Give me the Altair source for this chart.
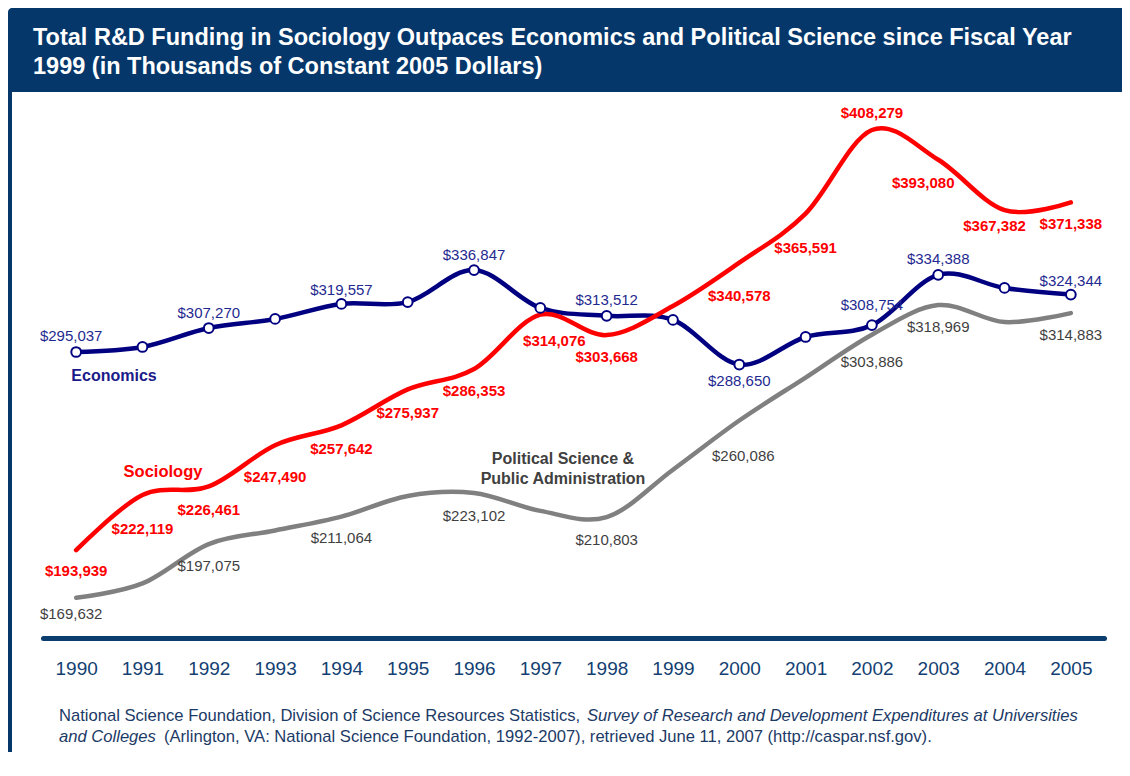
import altair as alt
import pandas as pd

# ---------------- data ----------------
years = list(range(1990, 2006))
economics = [295037, 297600, 307270, 311900, 319557, 320500, 336847, 317500,
             313512, 311400, 288650, 302700, 308754, 334388, 327700, 324344]
sociology = [193939, 222119, 226461, 247490, 257642, 275937, 286353, 314076,
             303668, 318500, 340578, 365591, 408279, 393080, 367382, 371338]
political = [169632, 177000, 197075, 204000, 211064, 221600, 223102, 214000,
             210803, 235000, 260086, 282000, 303886, 318969, 310300, 314883]

series_names = ["Economics", "Sociology", "Political Science & Public Administration"]
year_ticks = years

title_lines = [
    "Total R&D Funding in Sociology Outpaces Economics and Political Science since Fiscal Year",
    "1999 (in Thousands of Constant 2005 Dollars)",
]
source_l1_a = "National Science Foundation, Division of Science Resources Statistics,"
source_l1_b = "Survey of Research and Development Expenditures at Universities"
source_l2_a = "and Colleges"
source_l2_b = "(Arlington, VA: National Science Foundation, 1992-2007), retrieved June 11, 2007 (http://caspar.nsf.gov)."

# ---------------- layout (label placement offsets in px: dx, dy) ----------------
econ_label_pos = {1990: (-5, -16), 1992: (0, -15), 1994: (0, -14), 1996: (0, -15),
                  1998: (0, -16), 2000: (0, 16), 2002: (0, -20), 2003: (0, -16),
                  2005: (0, -14)}
soc_label_pos = {1990: (0, 21), 1991: (0, 34), 1992: (0, 24), 1993: (0, 32),
                 1994: (0, 24), 1995: (0, 24), 1996: (0, 22), 1997: (14, 26),
                 1998: (0, 22), 2000: (0, 33), 2001: (0, 34), 2002: (0, -17),
                 2003: (-15, 23), 2004: (-10, 16), 2005: (0, 22)}
pol_label_pos = {1990: (-5, 16), 1992: (0, 22), 1994: (0, 21), 1996: (0, 23),
                 1998: (0, 23), 2000: (4, 35), 2002: (0, 27), 2003: (0, 22),
                 2005: (0, 22)}

W, H = 1061, 537
x_dom = [1989.5, 2005.5]
y_dom = [149150, 423070]
px_per_year = W / (x_dom[1] - x_dom[0])
val_per_px = (y_dom[1] - y_dom[0]) / H

NAVY = "#000080"
RED = "#FF0000"
GRAY = "#808080"
BANNER = "#05376B"
AXIS_NAVY = "#0B3D6E"
FONT = "Liberation Sans"

rows = []
for name, vals, pos in zip(series_names, [economics, sociology, political],
                           [econ_label_pos, soc_label_pos, pol_label_pos]):
    for y, v in zip(years, vals):
        dx, dy = pos.get(y, (0, 0))
        rows.append({"year": y, "value": v, "series": name,
                     "has_label": y in pos, "ldx": dx, "ldy": dy,
                     "text": "${:,}".format(v)})
df = pd.DataFrame(rows)

x_axis = alt.Axis(values=year_ticks, format="d", title=None, grid=False, ticks=False,
                  tickSize=0, domainColor=AXIS_NAVY, domainWidth=5, domainCap="round",
                  labelFontSize=19, labelColor="#133F72", labelFont=FONT,
                  labelPadding=21, labelOverlap=False, labelFlush=False)
x_scale = alt.Scale(domain=x_dom, nice=False, zero=False)
y_scale = alt.Scale(domain=y_dom, nice=False, zero=False)

base = alt.Chart(df)


def line_layer(name, color):
    return base.transform_filter(alt.datum.series == name).mark_line(
        interpolate="cardinal", strokeWidth=4.5, color=color, strokeCap="round"
    ).encode(
        x=alt.X("year:Q", scale=x_scale, axis=x_axis),
        y=alt.Y("value:Q", scale=y_scale, axis=None),
    )


def label_layer(name, color, weight):
    return base.transform_filter(
        (alt.datum.series == name) & alt.datum.has_label
    ).transform_calculate(
        lx=alt.datum.year + alt.datum.ldx / px_per_year,
        ly=alt.datum.value - alt.datum.ldy * val_per_px,
    ).mark_text(font=FONT, fontSize=15, fontWeight=weight, color=color,
                align="center", baseline="middle").encode(
        x=alt.X("lx:Q", scale=x_scale, axis=x_axis),
        y=alt.Y("ly:Q", scale=y_scale, axis=None),
        text="text:N",
    )


markers = base.transform_filter(alt.datum.series == series_names[0]).mark_point(
    shape="circle", filled=True, fill="white", stroke=NAVY, strokeWidth=2,
    size=95, opacity=1
).encode(
    x=alt.X("year:Q", scale=x_scale, axis=x_axis),
    y=alt.Y("value:Q", scale=y_scale, axis=None),
)

one = alt.Data(values=[{"k": 1}])

banner = alt.Chart(one).mark_rect(color=BANNER, cornerRadiusTopLeft=4).encode(
    x=alt.value(-35), x2=alt.value(1079), y=alt.value(-93), y2=alt.value(-9)
)
border = alt.Chart(one).mark_rule(color=BANNER, strokeWidth=4).encode(
    x=alt.value(-33), y=alt.value(-10), y2=alt.value(651)
)


def text_at(txt, x, y, size, color, weight="normal", style="normal", align="left"):
    return alt.Chart(one).mark_text(
        text=txt, font=FONT, fontSize=size, fontWeight=weight, fontStyle=style,
        color=color, align=align, baseline="alphabetic"
    ).encode(x=alt.value(x), y=alt.value(y))


title1 = text_at(title_lines[0], -10, -56, 23.5, "white", "bold")
title2 = text_at(title_lines[1], -10, -27, 23.5, "white", "bold")

SRC = "#1C3A66"
src1a = text_at(source_l1_a, 16, 620, 16.6, SRC)
src1b = text_at(source_l1_b, 544, 620, 16.6, SRC, style="italic")
src2a = text_at(source_l2_a, 16, 641, 16.6, SRC, style="italic")
src2b = text_at(source_l2_b, 121, 641, 16.6, SRC)

name_econ = alt.Chart(one).mark_text(text="Economics", font=FONT, fontSize=16,
                                     fontWeight="bold", color="#1A1A8A",
                                     align="center", baseline="middle").encode(
    x=alt.value(71), y=alt.value(275))
name_soc = alt.Chart(one).mark_text(text="Sociology", font=FONT, fontSize=16.5,
                                    fontWeight="bold", color=RED,
                                    align="center", baseline="middle").encode(
    x=alt.value(120), y=alt.value(371))
name_pol = alt.Chart(one).mark_text(text=["Political Science &", "Public Administration"],
                                    font=FONT, fontSize=16, fontWeight="bold",
                                    color="#404040", align="center", baseline="middle",
                                    lineHeight=20).encode(
    x=alt.value(520), y=alt.value(358))

chart = alt.layer(
    banner, border, title1, title2,
    line_layer(series_names[2], GRAY),
    line_layer(series_names[0], NAVY),
    line_layer(series_names[1], RED),
    markers,
    label_layer(series_names[0], "#1F2A90", "normal"),
    label_layer(series_names[1], RED, "bold"),
    label_layer(series_names[2], "#3F3F3F", "normal"),
    name_econ, name_soc, name_pol,
    src1a, src1b, src2a, src2b,
).properties(
    width=W, height=H,
    autosize=alt.AutoSizeParams(type="none"),
    padding={"left": 35, "top": 93, "right": 18, "bottom": 122},
    background="white",
).configure_view(strokeWidth=0)

chart.save("out.html", embed_options={"renderer": "svg", "actions": False})
